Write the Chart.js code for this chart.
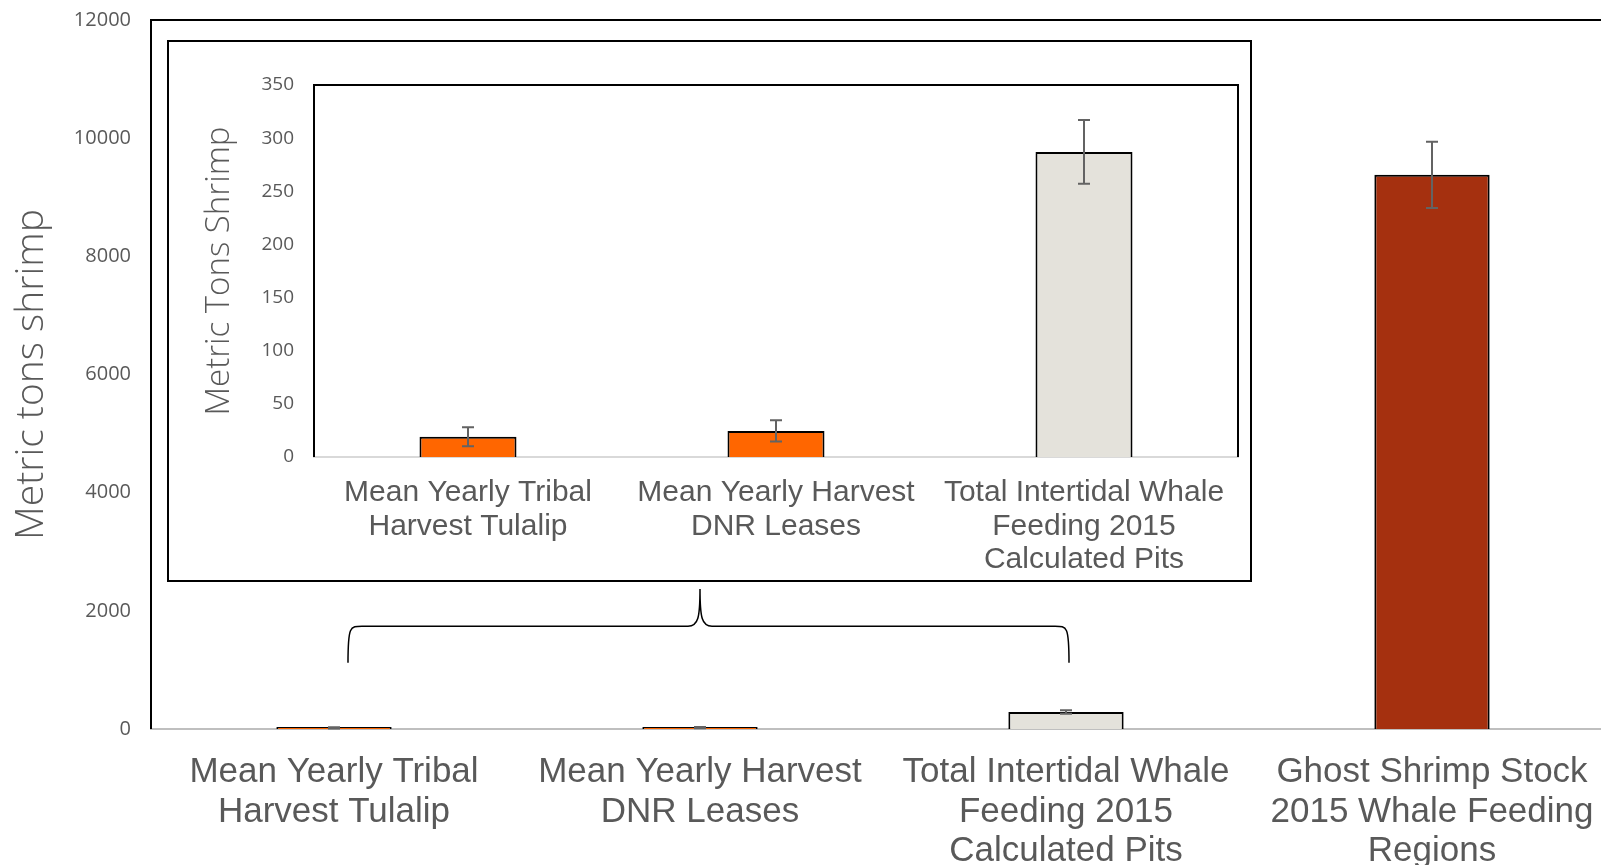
<!DOCTYPE html>
<html>
<head>
<meta charset="utf-8">
<script src="https://cdn.jsdelivr.net/npm/chart.js@4"></script>
<style>
  html, body { margin: 0; padding: 0; background: #fff; overflow: hidden; }
  #wrap { position: relative; width: 1601px; height: 865px; overflow: hidden; }
  #main { position: absolute; left: 0; top: 0; }
  #inset { position: absolute; left: 167px; top: 40px; }
</style>
</head>
<body>
<div id="wrap">
  <canvas id="main" width="1620" height="865"></canvas>
  <canvas id="inset" width="1085" height="542"></canvas>
</div>
<script>
// values
const categories = [
  ["Mean Yearly Tribal", "Harvest Tulalip"],
  ["Mean Yearly Harvest", "DNR Leases"],
  ["Total Intertidal Whale", "Feeding 2015", "Calculated Pits"],
  ["Ghost Shrimp Stock", "2015 Whale Feeding", "Regions"]
];
const shrimpTons = [19, 24.5, 287, 9380];
const shrimpErr = [9, 10, 30, 560];
const barColors = ["#FF6600", "#FF6600", "#E4E2DB", "#A5300F"];

const insetCount = 3;
const insetCategories = categories.slice(0, insetCount);
const insetTons = shrimpTons.slice(0, insetCount);
const insetErr = shrimpErr.slice(0, insetCount);
const insetColors = barColors.slice(0, insetCount);

const gray = "#595959";
const lightFont = "'Open Sans', 'DejaVu Sans', sans-serif";
const labelFont = "'Liberation Sans', Arial, sans-serif";

// error bars drawn from the data through the chart scales
const errorBars = {
  id: "errbars",
  afterDatasetsDraw(chart, args, opts) {
    const { ctx } = chart;
    const x = chart.scales.x, y = chart.scales.y;
    ctx.save();
    ctx.strokeStyle = "#636363";
    ctx.lineWidth = 2;
    opts.errors.forEach((e, i) => {
      const v = chart.data.datasets[0].data[i];
      const cx = x.getPixelForValue(i);
      const yt = y.getPixelForValue(v + e);
      const yb = y.getPixelForValue(v - e);
      ctx.beginPath();
      ctx.moveTo(cx, yt); ctx.lineTo(cx, yb);
      ctx.moveTo(cx - 6, yt); ctx.lineTo(cx + 6, yt);
      ctx.moveTo(cx - 6, yb); ctx.lineTo(cx + 6, yb);
      ctx.stroke();
    });
    ctx.restore();
  }
};

// black frame on top/left/right of plot area
const plotFrame = {
  id: "plotframe",
  beforeDatasetsDraw(chart, args, opts) {
    const { ctx, chartArea: a } = chart;
    ctx.save();
    ctx.strokeStyle = "#000";
    ctx.lineWidth = 2;
    ctx.beginPath();
    ctx.moveTo(a.left, a.bottom);
    ctx.lineTo(a.left, a.top);
    ctx.lineTo(a.right, a.top);
    ctx.lineTo(a.right, a.bottom);
    ctx.stroke();
    if (opts.outer) {
      ctx.strokeRect(1, 1, chart.width - 2, chart.height - 2);
    }
    ctx.restore();
  }
};

// curly brace pointing at the inset
const brace = {
  id: "brace",
  afterDraw(chart) {
    const { ctx } = chart;
    const x = chart.scales.x, y = chart.scales.y;
    const x0 = x.getPixelForValue(0) + 14;
    const x1 = x.getPixelForValue(2) + 3;
    const xm = x.getPixelForValue(1);
    const yEnd = y.getPixelForValue(1120);
    const yMid = y.getPixelForValue(1740);
    const yTip = y.getPixelForValue(2370);
    ctx.save();
    ctx.strokeStyle = "#000";
    ctx.lineWidth = 1.5;
    ctx.beginPath();
    ctx.moveTo(x0, yEnd);
    ctx.bezierCurveTo(x0, yMid, x0 + 2, yMid, x0 + 14, yMid);
    ctx.lineTo(xm - 12, yMid);
    ctx.bezierCurveTo(xm - 2, yMid, xm, yMid - 8, xm, yTip);
    ctx.bezierCurveTo(xm, yMid - 8, xm + 2, yMid, xm + 12, yMid);
    ctx.lineTo(x1 - 14, yMid);
    ctx.bezierCurveTo(x1 - 2, yMid, x1, yMid, x1, yEnd);
    ctx.stroke();
    ctx.restore();
  }
};

const whiteBg = {
  id: "whitebg",
  beforeDraw(chart) {
    const { ctx } = chart;
    ctx.save();
    ctx.fillStyle = "#fff";
    ctx.fillRect(0, 0, chart.width, chart.height);
    ctx.restore();
  }
};

function makeChart(canvas, cfg) {
  return new Chart(canvas, {
    type: "bar",
    data: {
      labels: cfg.labels,
      datasets: [{
        data: cfg.values,
        backgroundColor: cfg.colors,
        borderColor: "#000",
        borderWidth: 2,
        borderSkipped: "bottom",
        minBarLength: cfg.minBar,
        barPercentage: 0.315,
        categoryPercentage: 1
      }]
    },
    options: {
      responsive: false,
      animation: false,
      devicePixelRatio: 1,
      layout: { padding: cfg.padding },
      plugins: {
        legend: { display: false },
        tooltip: { enabled: false },
        errbars: { errors: cfg.errors },
        plotframe: { outer: cfg.outer }
      },
      scales: {
        x: {
          grid: { display: false, drawTicks: false },
          border: { display: true, color: cfg.axisColor, width: 2 },
          ticks: {
            color: gray,
            font: { family: labelFont, size: cfg.catSize, lineHeight: cfg.catLine },
            padding: cfg.catPad,
            maxRotation: 0, minRotation: 0, autoSkip: false
          },
          afterFit: s => { s.height = cfg.xHeight; }
        },
        y: {
          min: 0, max: cfg.max,
          grid: { display: false, drawTicks: false },
          border: { display: false },
          ticks: {
            stepSize: cfg.step,
            color: gray,
            font: { family: lightFont, size: cfg.tickSize, weight: 400 },
            padding: 20,
            callback: v => String(v)
          },
          title: {
            display: true,
            text: cfg.title,
            color: gray,
            font: { family: lightFont, size: cfg.titleSize, weight: 300, lineHeight: 1.2 },
            padding: { top: cfg.titlePad, bottom: 0 }
          },
          afterFit: s => {
            s.width = cfg.yWidth;
            s.paddingTop = 0;
            s.paddingBottom = 0;
          }
        }
      }
    },
    plugins: cfg.plugins
  });
}

makeChart(document.getElementById("main"), {
  labels: categories, values: shrimpTons, colors: barColors, errors: shrimpErr,
  padding: { top: 20, right: 5, left: 0, bottom: 0 },
  max: 12000, step: 2000, title: "Metric tons shrimp", titleSize: 39, titlePad: 8,
  yWidth: 151, xHeight: 136, catSize: 35, catLine: 1.14, catPad: 23,
  axisColor: "#BFBFBF", outer: false, tickSize: 20, minBar: 2,
  plugins: [whiteBg, plotFrame, errorBars, brace]
});

makeChart(document.getElementById("inset"), {
  labels: insetCategories, values: insetTons, colors: insetColors, errors: insetErr,
  padding: { top: 45, right: 14, left: 0, bottom: 0 },
  max: 350, step: 50, title: "Metric Tons Shrimp", titleSize: 33, titlePad: 33,
  yWidth: 147, xHeight: 125, catSize: 30, catLine: 1.12, catPad: 19,
  axisColor: "#D9D9D9", outer: true, tickSize: 19, minBar: 0,
  plugins: [whiteBg, plotFrame, errorBars]
});
</script>
</body>
</html>
